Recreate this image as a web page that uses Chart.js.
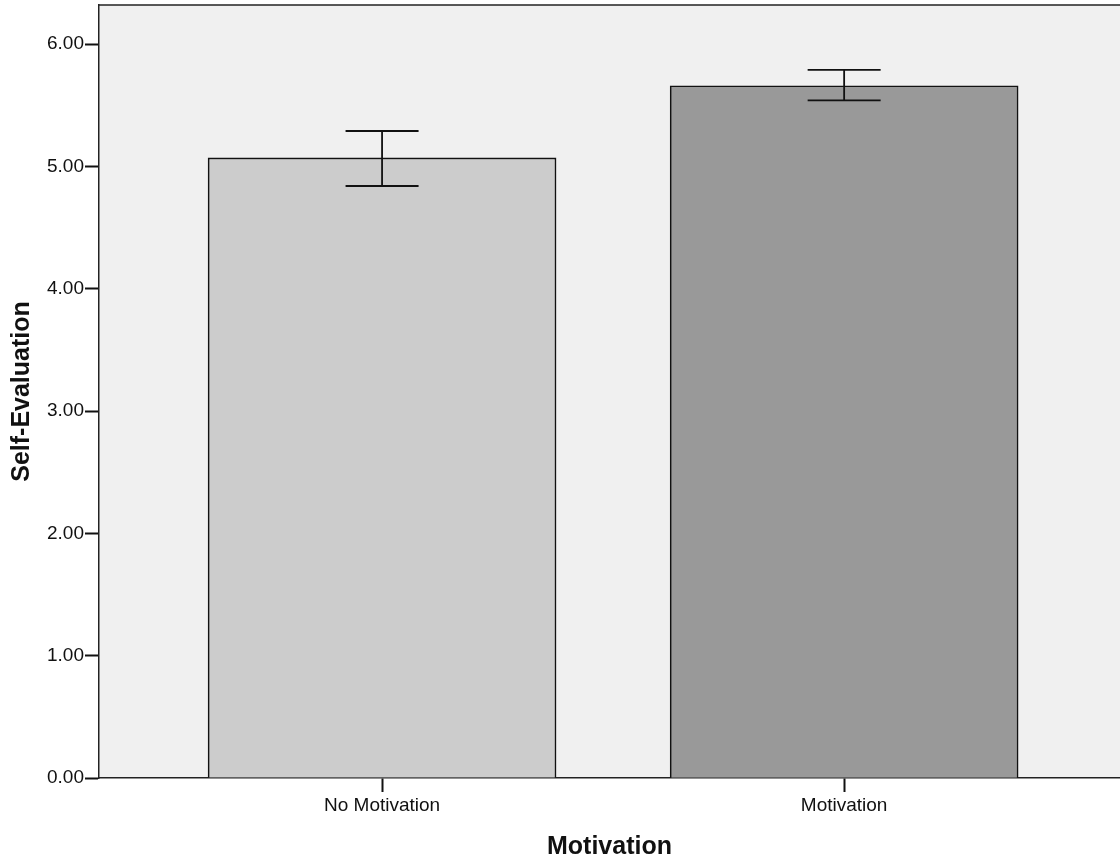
<!DOCTYPE html>
<html>
<head>
<meta charset="utf-8">
<script src="https://cdn.jsdelivr.net/npm/chart.js@4"></script>
<style>
  html, body { margin: 0; padding: 0; background: #fff; overflow: hidden; }
  #wrap { width: 1120px; height: 862px; }
</style>
</head>
<body>
<div id="wrap"><canvas id="chart"></canvas></div>
<script>
// data
const categories = ['No Motivation', 'Motivation'];
const means = [5.07, 5.66];
const errLow = [4.84, 5.54];
const errHigh = [5.29, 5.79];
const yTicks = [0, 1, 2, 3, 4, 5, 6];
const barColors = ['#cccccc', '#999999'];

// plot background + top border
const plotBg = {
  id: 'plotBg',
  beforeDraw(chart) {
    const { ctx, chartArea: a } = chart;
    ctx.save();
    ctx.fillStyle = '#f0f0f0';
    ctx.fillRect(a.left, a.top, a.right - a.left, a.bottom - a.top);
    ctx.strokeStyle = '#222';
    ctx.lineWidth = 1.5;
    ctx.beginPath();
    ctx.moveTo(a.left, a.top);
    ctx.lineTo(a.right, a.top);
    ctx.stroke();
    ctx.restore();
  }
};

// error bars
const errorBars = {
  id: 'errorBars',
  afterDatasetsDraw(chart) {
    const { ctx, scales: { x, y } } = chart;
    ctx.save();
    ctx.strokeStyle = '#111';
    ctx.lineWidth = 1.8;
    categories.forEach((c, i) => {
      const cx = x.getPixelForValue(i);
      const top = y.getPixelForValue(errHigh[i]);
      const bot = y.getPixelForValue(errLow[i]);
      ctx.beginPath();
      ctx.moveTo(cx, top); ctx.lineTo(cx, bot);
      ctx.moveTo(cx - 36.5, top); ctx.lineTo(cx + 36.5, top);
      ctx.moveTo(cx - 36.5, bot); ctx.lineTo(cx + 36.5, bot);
      ctx.stroke();
    });
    ctx.restore();
  }
};

new Chart(document.getElementById('chart'), {
  type: 'bar',
  data: {
    datasets: [{
      data: means.map((m, i) => ({ x: i, y: m })),
      backgroundColor: barColors,
      borderColor: '#111',
      borderWidth: 1.6,
      barThickness: 348
    }]
  },
  options: {
    responsive: true,
    maintainAspectRatio: false,
    animation: false,
    layout: { padding: { top: 5, left: 0, right: 0, bottom: 0 } },
    plugins: {
      legend: { display: false },
      tooltip: { enabled: false }
    },
    scales: {
      x: {
        type: 'linear',
        min: -0.6126,
        max: 1.597,
        offset: false,
        afterBuildTicks: s => { s.ticks = categories.map((c, i) => ({ value: i })); },
        afterFit: s => { s.height = 84; s.paddingLeft = 0; s.paddingRight = 0; },
        ticks: {
          callback: v => categories[v],
          color: '#111',
          font: { family: 'Liberation Sans', size: 19 },
          padding: 2,
          maxRotation: 0
        },
        grid: { offset: false, drawOnChartArea: false, tickLength: 14, tickWidth: 2, tickColor: '#111' },
        border: { display: true, color: '#222', width: 1.5 },
        title: {
          display: true,
          text: 'Motivation',
          color: '#111',
          font: { family: 'Liberation Sans', size: 25, weight: 'bold' },
          padding: { top: 0, bottom: 0 }
        }
      },
      y: {
        min: 0,
        max: 6.32,
        afterBuildTicks: s => { s.ticks = yTicks.map(v => ({ value: v })); },
        afterFit: s => { s.width = 99; s.paddingTop = 0; s.paddingBottom = 0; },
        ticks: {
          callback: v => v.toFixed(2),
          color: '#111',
          font: { family: 'Liberation Sans', size: 19 },
          padding: 1
        },
        grid: { drawOnChartArea: false, tickLength: 14, tickWidth: 2, tickColor: '#111' },
        border: { display: true, color: '#222', width: 1.5 },
        title: {
          display: true,
          text: 'Self-Evaluation',
          color: '#111',
          font: { family: 'Liberation Sans', size: 25, weight: 'bold' },
          padding: { top: 7, bottom: 0 }
        }
      }
    }
  },
  plugins: [plotBg, errorBars]
});
</script>
</body>
</html>
